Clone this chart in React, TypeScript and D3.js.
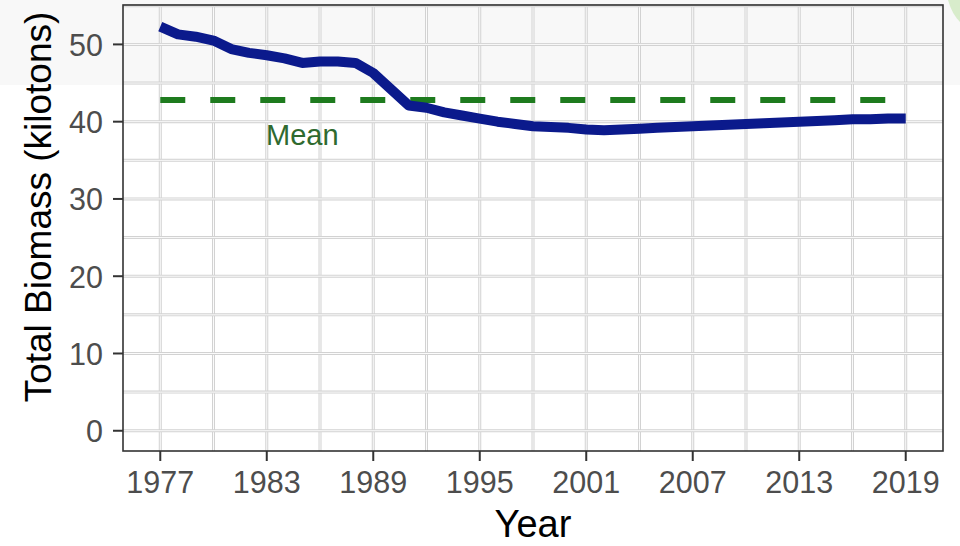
import React from "react";
import * as d3 from "d3";

const years: number[] = [
  1977, 1978, 1979, 1980, 1981, 1982, 1983, 1984, 1985, 1986, 1987, 1988, 1989, 1990,
  1991, 1992, 1993, 1994, 1995, 1996, 1997, 1998, 1999, 2000, 2001, 2002, 2003, 2004,
  2005, 2006, 2007, 2008, 2009, 2010, 2011, 2012, 2013, 2014, 2015, 2016, 2017, 2018, 2019,
];
const biomass: number[] = [
  52.3, 51.3, 51.0, 50.5, 49.4, 48.9, 48.6, 48.2, 47.6, 47.8, 47.8, 47.6, 46.3, 44.2,
  42.1, 41.8, 41.2, 40.8, 40.4, 40.0, 39.7, 39.4, 39.3, 39.2, 39.0, 38.9, 39.0, 39.1,
  39.2, 39.3, 39.4, 39.5, 39.6, 39.7, 39.8, 39.9, 40.0, 40.1, 40.2, 40.3, 40.3, 40.4, 40.4,
];
const meanValue = 42.8;
const meanLabel = "Mean";
const xTicks: number[] = [1977, 1983, 1989, 1995, 2001, 2007, 2013, 2019];
const xMinor: number[] = [1980, 1986, 1992, 1998, 2004, 2010, 2016];
const yTicks: number[] = [0, 10, 20, 30, 40, 50];
const yMinor: number[] = [5, 15, 25, 35, 45, 55];
const xTitle = "Year";
const yTitle = "Total Biomass (kilotons)";

const W = 960;
const H = 546;
const P = { left: 123, right: 943, top: 5, bottom: 451 };
const FONT = "'Liberation Sans', Arial, Helvetica, sans-serif";

export default function App() {
  const x = d3.scaleLinear().domain([1974.9, 2021.1]).range([P.left, P.right]);
  const y = d3.scaleLinear().domain([-2.62, 55.1]).range([P.bottom, P.top]);

  const data = years.map((yr, i) => ({ yr, v: biomass[i] }));
  const line = d3
    .line<{ yr: number; v: number }>()
    .x((d) => x(d.yr))
    .y((d) => y(d.v))
    .curve(d3.curveLinear);

  const vGrid = [...xTicks, ...xMinor];
  const hGrid = [...yTicks, ...yMinor].filter((v) => y(v) >= P.top - 1);

  return (
    <svg
      width={W}
      height={H}
      style={{ position: "absolute", left: 0, top: 0, display: "block", background: "#ffffff" }}
    >
      <rect x={0} y={0} width={W} height={85} fill="#f8f8f8" />
      <path d="M948,0 L960,0 L960,22 Q952,14 948,0 Z" fill="#cfe8bf" opacity={0.8} />

      <g>
        {vGrid.map((v) => (
          <g key={"v" + v}>
            <line x1={x(v)} x2={x(v)} y1={P.top} y2={P.bottom} stroke="#d2d2d2" strokeWidth={3} />
            <line x1={x(v)} x2={x(v)} y1={P.top} y2={P.bottom} stroke="#fbfbfb" strokeWidth={1} />
          </g>
        ))}
        {hGrid.map((v) => (
          <g key={"h" + v}>
            <line x1={P.left} x2={P.right} y1={y(v)} y2={y(v)} stroke="#d2d2d2" strokeWidth={3} />
            <line x1={P.left} x2={P.right} y1={y(v)} y2={y(v)} stroke="#fbfbfb" strokeWidth={1} />
          </g>
        ))}
      </g>

      <line
        x1={x(years[0])}
        x2={x(years[years.length - 1])}
        y1={y(meanValue)}
        y2={y(meanValue)}
        stroke="#1e7b1e"
        strokeWidth={6}
        strokeDasharray="25,25"
      />
      <text
        x={x(1985)}
        y={y(meanValue) + 45}
        textAnchor="middle"
        fontFamily={FONT}
        fontSize={29}
        fill="#2f6a2f"
      >
        {meanLabel}
      </text>

      <path
        d={line(data) || ""}
        fill="none"
        stroke="#0b1a8c"
        strokeWidth={10}
        strokeLinejoin="round"
      />

      <rect
        x={P.left}
        y={P.top}
        width={P.right - P.left}
        height={P.bottom - P.top}
        fill="none"
        stroke="#333333"
        strokeWidth={1.6}
      />

      {xTicks.map((t) => (
        <g key={"xt" + t}>
          <line x1={x(t)} x2={x(t)} y1={P.bottom} y2={P.bottom + 10} stroke="#333333" strokeWidth={2} />
          <text
            x={x(t)}
            y={P.bottom + 42}
            textAnchor="middle"
            fontFamily={FONT}
            fontSize={30.5}
            fill="#4d4d4d"
          >
            {t}
          </text>
        </g>
      ))}
      {yTicks.map((t) => (
        <g key={"yt" + t}>
          <line x1={P.left - 10} x2={P.left} y1={y(t)} y2={y(t)} stroke="#333333" strokeWidth={2} />
          <text
            x={P.left - 20}
            y={y(t) + 11.5}
            textAnchor="end"
            fontFamily={FONT}
            fontSize={30.5}
            fill="#4d4d4d"
          >
            {t}
          </text>
        </g>
      ))}

      <text x={533} y={537} textAnchor="middle" fontFamily={FONT} fontSize={38} fill="#000000">
        {xTitle}
      </text>
      <text
        transform={`translate(51,207) rotate(-90)`}
        textAnchor="middle"
        fontFamily={FONT}
        fontSize={37}
        fill="#000000"
      >
        {yTitle}
      </text>
    </svg>
  );
}
